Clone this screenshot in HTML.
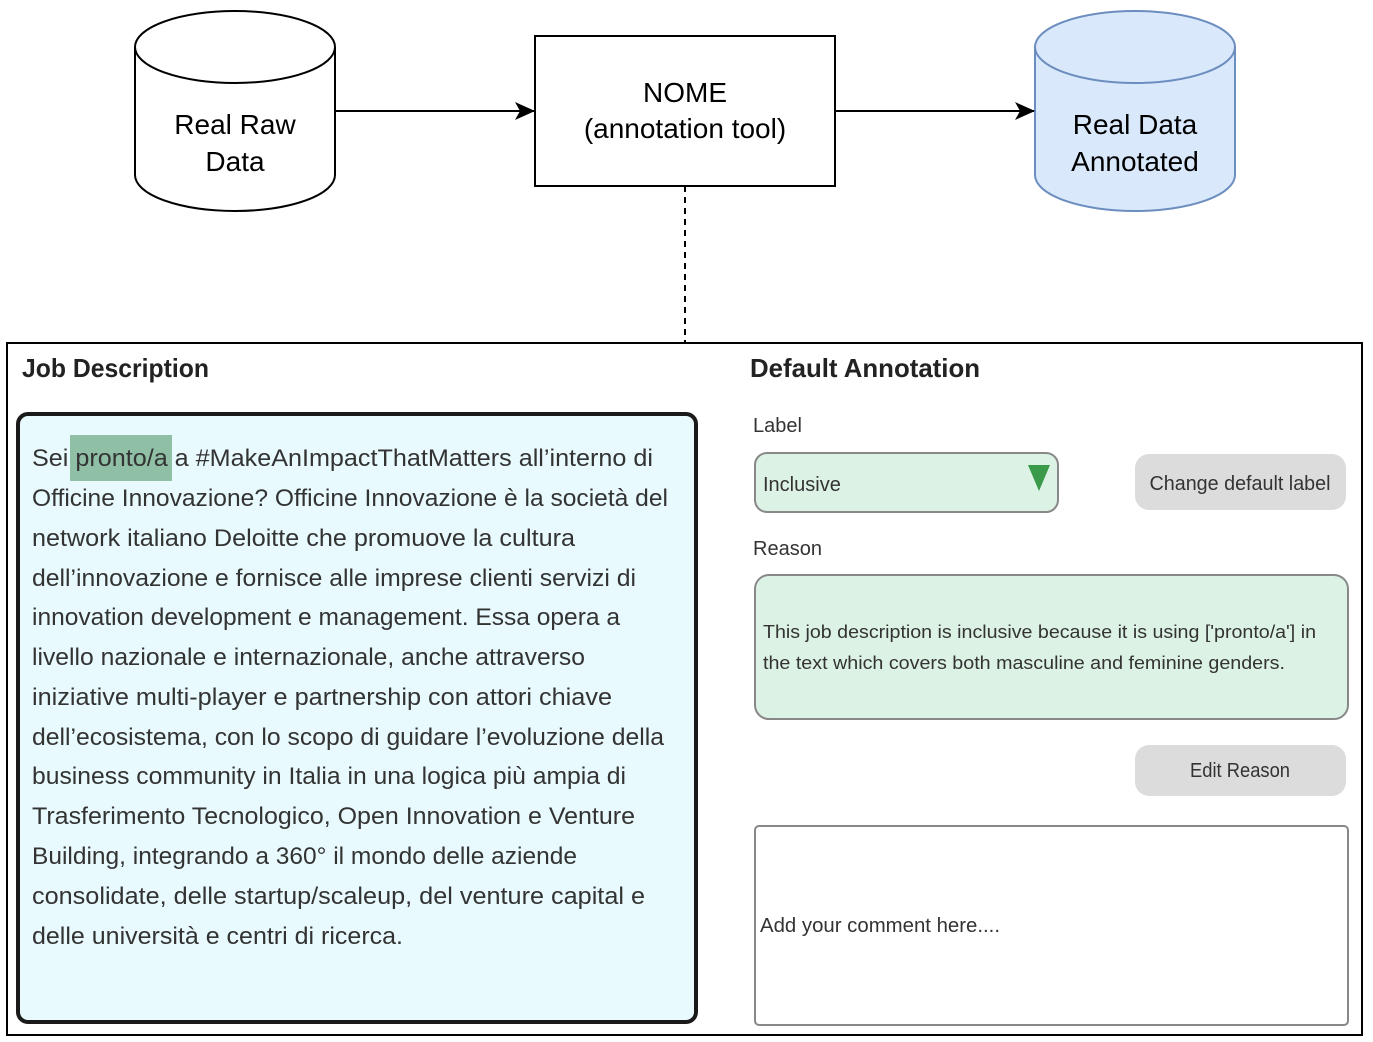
<!DOCTYPE html>
<html><head><meta charset="utf-8"><style>
html,body{margin:0;padding:0;background:#fff}
svg{display:block}
text{font-family:"Liberation Sans",sans-serif}
</style></head><body>
<svg width="1373" height="1042" viewBox="0 0 1373 1042" xmlns="http://www.w3.org/2000/svg">
<defs>
<marker id="ar" markerWidth="20" markerHeight="20" refX="19" refY="10" orient="auto" markerUnits="userSpaceOnUse">
<path d="M0,1 L20,10 L0,19 L5,10 z" fill="#000"/></marker>
</defs>
<path d="M135,47 L135,175 A100,36 0 0 0 335,175 L335,47" fill="#fff" stroke="#000" stroke-width="2"/>
<ellipse cx="235" cy="47" rx="100" ry="36" fill="#fff" stroke="#000" stroke-width="2"/>
<text x="235" y="134" font-size="28" text-anchor="middle">Real Raw</text>
<text x="235" y="171" font-size="28" text-anchor="middle">Data</text>
<rect x="535" y="36" width="300" height="150" fill="#fff" stroke="#000" stroke-width="2"/>
<text x="685" y="102" font-size="28" text-anchor="middle">NOME</text>
<text x="685" y="138" font-size="28" text-anchor="middle">(annotation tool)</text>
<path d="M1035,47 L1035,175 A100,36 0 0 0 1235,175 L1235,47" fill="#dae8fc" stroke="#6c8ebf" stroke-width="2"/>
<ellipse cx="1135" cy="47" rx="100" ry="36" fill="#dae8fc" stroke="#6c8ebf" stroke-width="2"/>
<text x="1135" y="134" font-size="28" text-anchor="middle">Real Data</text>
<text x="1135" y="171" font-size="28" text-anchor="middle">Annotated</text>
<line x1="335" y1="111" x2="534" y2="111" stroke="#000" stroke-width="2" marker-end="url(#ar)"/>
<line x1="835" y1="111" x2="1034" y2="111" stroke="#000" stroke-width="2" marker-end="url(#ar)"/>
<line x1="685" y1="186" x2="685" y2="343" stroke="#000" stroke-width="2" stroke-dasharray="6,5"/>
<rect x="7" y="343" width="1355" height="692" fill="#fff" stroke="#000" stroke-width="2"/>
<text x="22" y="377" font-size="26" font-weight="bold" fill="#222" textLength="187" lengthAdjust="spacingAndGlyphs">Job Description</text>
<rect x="18" y="414" width="678" height="608" rx="10" fill="#e8fafd" stroke="#1a1a1a" stroke-width="4"/>
<rect x="70" y="435" width="102" height="46" fill="#8fc0a6"/>
<g font-size="24" fill="#333">
<text x="32" y="466" textLength="621" lengthAdjust="spacingAndGlyphs">Sei pronto/a a #MakeAnImpactThatMatters all’interno di</text>
<text x="32" y="506" textLength="636" lengthAdjust="spacingAndGlyphs">Officine Innovazione? Officine Innovazione è la società del</text>
<text x="32" y="546" textLength="543" lengthAdjust="spacingAndGlyphs">network italiano Deloitte che promuove la cultura</text>
<text x="32" y="586" textLength="604" lengthAdjust="spacingAndGlyphs">dell’innovazione e fornisce alle imprese clienti servizi di</text>
<text x="32" y="625" textLength="588" lengthAdjust="spacingAndGlyphs">innovation development e management. Essa opera a</text>
<text x="32" y="665" textLength="553" lengthAdjust="spacingAndGlyphs">livello nazionale e internazionale, anche attraverso</text>
<text x="32" y="705" textLength="580" lengthAdjust="spacingAndGlyphs">iniziative multi-player e partnership con attori chiave</text>
<text x="32" y="745" textLength="632" lengthAdjust="spacingAndGlyphs">dell’ecosistema, con lo scopo di guidare l’evoluzione della</text>
<text x="32" y="784" textLength="594" lengthAdjust="spacingAndGlyphs">business community in Italia in una logica più ampia di</text>
<text x="32" y="824" textLength="603" lengthAdjust="spacingAndGlyphs">Trasferimento Tecnologico, Open Innovation e Venture</text>
<text x="32" y="864" textLength="545" lengthAdjust="spacingAndGlyphs">Building, integrando a 360° il mondo delle aziende</text>
<text x="32" y="904" textLength="613" lengthAdjust="spacingAndGlyphs">consolidate, delle startup/scaleup, del venture capital e</text>
<text x="32" y="944" textLength="371" lengthAdjust="spacingAndGlyphs">delle università e centri di ricerca.</text>
</g>
<text x="750" y="377" font-size="26" font-weight="bold" fill="#222" textLength="230" lengthAdjust="spacingAndGlyphs">Default Annotation</text>
<text x="753" y="432" font-size="20" fill="#333">Label</text>
<rect x="755" y="453" width="303" height="59" rx="12" fill="#dcf2e4" stroke="#888" stroke-width="2"/>
<text x="763" y="491" font-size="20" fill="#333">Inclusive</text>
<path d="M1028,465 L1050,465 L1039,491 z" fill="#3a9a4a"/>
<rect x="1135" y="454" width="211" height="56" rx="14" fill="#dcdcdc"/>
<text x="1240" y="490" font-size="20" fill="#333" text-anchor="middle" textLength="181" lengthAdjust="spacingAndGlyphs">Change default label</text>
<text x="753" y="555" font-size="20" fill="#333">Reason</text>
<rect x="755" y="575" width="593" height="144" rx="14" fill="#dcf2e4" stroke="#888" stroke-width="2"/>
<text x="763" y="638" font-size="18" fill="#333" textLength="553" lengthAdjust="spacingAndGlyphs">This job description is inclusive because it is using ['pronto/a'] in</text>
<text x="763" y="669" font-size="18" fill="#333" textLength="522" lengthAdjust="spacingAndGlyphs">the text which covers both masculine and feminine genders.</text>
<rect x="1135" y="745" width="211" height="51" rx="14" fill="#dcdcdc"/>
<text x="1240" y="777" font-size="20" fill="#333" text-anchor="middle" textLength="100" lengthAdjust="spacingAndGlyphs">Edit Reason</text>
<rect x="755" y="826" width="593" height="199" rx="4" fill="#fff" stroke="#888" stroke-width="2"/>
<text x="760" y="932" font-size="20" fill="#333" textLength="240" lengthAdjust="spacingAndGlyphs">Add your comment here....</text>
</svg>
</body></html>
